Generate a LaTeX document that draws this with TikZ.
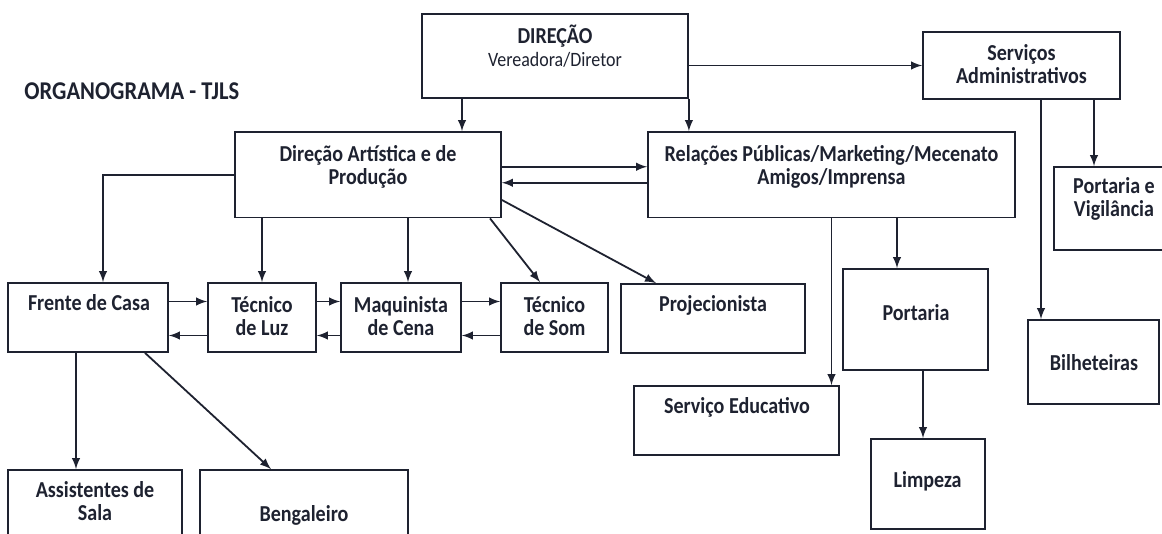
\documentclass[tikz,border=0pt]{standalone}
\usepackage{fontspec}
\setmainfont{Carlito}[FakeStretch=0.88]
\usetikzlibrary{arrows,positioning,fit}
\definecolor{ink}{RGB}{30,34,48}

\begin{document}
\begin{tikzpicture}[x=0.5pt,y=-0.5pt,
	unit/.style={draw=ink,line width=0.9pt,inner sep=0pt},
	lbl/.style={font=\fontsize{11.4}{11.5}\selectfont\bfseries,text=ink,align=center,inner sep=0pt},
	link/.style={draw=ink,line width=0.9pt,-latex}
]
\fill[white] (0,0) rectangle (1162,534);
\useasboundingbox (0,0) rectangle (1162,534);
\clip (0,0) rectangle (1162,534);

\node[lbl,font=\fontsize{12.8}{14}\selectfont\bfseries,anchor=west] (title) at (24,91) {ORGANOGRAMA - TJLS};

% caixas
\node[unit,fit={(422,14) (688,98)}] (dir) {};
\node[unit,fit={(235,132) (501,217.5)}] (art) {};
\node[unit,fit={(648,132) (1015,217.5)}] (rel) {};
\node[unit,fit={(923,32) (1120,99)}] (adm) {};
\node[unit,fit={(1054,167) (1175,250)}] (vig) {};
\node[unit,fit={(8,283) (168,352)}] (frente) {};
\node[unit,fit={(208,283) (316,352)}] (luz) {};
\node[unit,fit={(341,283) (461,352)}] (maq) {};
\node[unit,fit={(501,283) (608,352)}] (som) {};
\node[unit,fit={(621,284) (805,353)}] (proj) {};
\node[unit,fit={(634,386) (839,455)}] (edu) {};
\node[unit,fit={(843,269) (988,370)}] (port) {};
\node[unit,fit={(871,439) (985,529)}] (limp) {};
\node[unit,fit={(1028,320) (1159,404)}] (bilh) {};
\node[unit,fit={(8,470) (182,550)}] (assist) {};
\node[unit,fit={(200,470) (408,550)}] (beng) {};

% textos
\node[lbl] (dir-t) at (555,46) {DIREÇÃO\\{\mdseries\fontsize{10.2}{12}\selectfont Vereadora/Diretor}};
\node[lbl] (art-t) at (368,167) {Direção Artística e de\\Produção};
\node[lbl] (rel-t) at (831.5,166.5) {Relações Públicas/Marketing/Mecenato\\Amigos/Imprensa};
\node[lbl] (adm-t) at (1021.5,64) {Serviços\\Administrativos};
\node[lbl] (vig-t) at (1114,199) {Portaria e\\Vigilância};
\node[lbl] (frente-t) at (89,303) {Frente de Casa};
\node[lbl] (luz-t) at (262,316) {Técnico\\de Luz};
\node[lbl] (maq-t) at (401,316) {Maquinista\\de Cena};
\node[lbl] (som-t) at (554.5,316) {Técnico\\de Som};
\node[lbl] (proj-t) at (713,305) {Projecionista};
\node[lbl] (edu-t) at (737,407) {Serviço Educativo};
\node[lbl] (port-t) at (916,313) {Portaria};
\node[lbl] (limp-t) at (927.6,481) {Limpeza};
\node[lbl] (bilh-t) at (1094,363) {Bilheteiras};
\node[lbl] (assist-t) at (95,501.5) {Assistentes de\\Sala};
\node[lbl] (beng-t) at (304,515) {Bengaleiro};

% ligacoes
\draw[link] (dir.south -| 462,0) -- (art.north -| 462,0);
\draw[link] (dir.south east) -- (dir.south east |- rel.north);
\draw[link] (dir.east |- adm.west) -- (adm.west);
\draw[link] ([yshift=4pt]art.east) -- ([yshift=4pt]rel.west);
\draw[link] ([yshift=-4pt]rel.west) -- ([yshift=-4pt]art.east);
\draw[link] (art.west) -| (frente.north -| 103,0);
\draw[link] (art.south -| luz.north) -- (luz.north);
\draw[link] (art.south -| 408,0) -- (maq.north -| 408,0);
\draw[link] (art.south -| 490,0) -- (som.north -| 540,0);
\draw[link] (art.east |- 0,200) -- (proj.north -| 656,0);
\foreach \a/\b in {frente/luz,luz/maq,maq/som}{
	\draw[link] ([yshift=8pt]\a.east) -- ([yshift=8pt]\b.west);
	\draw[link] ([yshift=-9pt]\b.west) -- ([yshift=-9pt]\a.east);
}
\draw[link] (frente.south -| 76,0) -- (assist.north -| 76,0);
\draw[link] (frente.south -| 145,0) -- (beng.north -| 271,0);
\draw[link] (rel.south) -- (rel.south |- edu.north);
\draw[link] (rel.south -| 897,0) -- (port.north -| 897,0);
\draw[link] (port.south -| 923,0) -- (limp.north -| 923,0);
\draw[link] (adm.south -| 1041,0) -- (bilh.north -| 1041,0);
\draw[link] (adm.south -| 1094,0) -- (vig.north -| 1094,0);
\end{tikzpicture}
\end{document}
